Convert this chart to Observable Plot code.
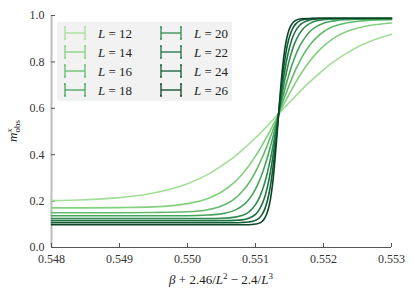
<!DOCTYPE html>
<html><head><meta charset="utf-8">
<script src="https://cdn.jsdelivr.net/npm/d3@7"></script>
<script src="https://cdn.jsdelivr.net/npm/@observablehq/plot@0.6"></script>
<style>body{margin:0;background:#fff}#chart{width:415px;height:298px}</style>
</head><body><div id="chart"></div>
<script>
const sizes = [12, 14, 16, 18, 20, 22, 24, 26];
const colors = ["#a3de98", "#83d07f", "#62bb6c", "#45a35c", "#2f8a4e", "#1e7242", "#105c33", "#0b4528"];
const xTicks = [0.548, 0.549, 0.550, 0.551, 0.552, 0.553];
const yTicks = [0.0, 0.2, 0.4, 0.6, 0.8, 1.0];
const betaValues = [0.5480, 0.5485, 0.5490, 0.5495, 0.5500, 0.5503, 0.5505, 0.5507, 0.5508, 0.5509,
  0.5510, 0.55105, 0.5511, 0.55113, 0.55116, 0.55119, 0.55122, 0.55125, 0.55128, 0.55131,
  0.55134, 0.55137, 0.5514, 0.55143, 0.55146, 0.55149, 0.55152, 0.55156, 0.5516, 0.55165,
  0.5517, 0.5518, 0.5519, 0.5520, 0.5521, 0.5522, 0.55235, 0.5525, 0.5527, 0.5530];
const m12 = [0.202, 0.206, 0.215, 0.235, 0.275, 0.315, 0.352, 0.394, 0.419, 0.445,
  0.473, 0.487, 0.502, 0.511, 0.520, 0.529, 0.539, 0.548, 0.557, 0.567,
  0.576, 0.585, 0.595, 0.604, 0.613, 0.623, 0.632, 0.644, 0.656, 0.671,
  0.686, 0.714, 0.741, 0.766, 0.790, 0.811, 0.839, 0.864, 0.890, 0.919];
const m14 = [0.171, 0.171, 0.172, 0.175, 0.189, 0.211, 0.239, 0.284, 0.315, 0.351,
  0.394, 0.417, 0.442, 0.458, 0.474, 0.490, 0.506, 0.523, 0.540, 0.557,
  0.574, 0.591, 0.608, 0.625, 0.642, 0.658, 0.674, 0.695, 0.716, 0.740,
  0.763, 0.804, 0.839, 0.868, 0.892, 0.911, 0.932, 0.946, 0.958, 0.968];
const m16 = [0.150, 0.150, 0.150, 0.151, 0.154, 0.163, 0.179, 0.212, 0.240, 0.277,
  0.326, 0.356, 0.388, 0.409, 0.431, 0.454, 0.477, 0.501, 0.526, 0.551,
  0.576, 0.601, 0.625, 0.650, 0.673, 0.696, 0.718, 0.746, 0.773, 0.802,
  0.829, 0.873, 0.906, 0.930, 0.947, 0.958, 0.969, 0.975, 0.980, 0.982];
const m18 = [0.137, 0.137, 0.137, 0.137, 0.137, 0.140, 0.145, 0.161, 0.178, 0.206,
  0.252, 0.283, 0.320, 0.346, 0.374, 0.404, 0.436, 0.469, 0.504, 0.540,
  0.576, 0.612, 0.647, 0.681, 0.713, 0.743, 0.772, 0.806, 0.836, 0.868,
  0.893, 0.931, 0.953, 0.967, 0.974, 0.979, 0.982, 0.984, 0.985, 0.985];
const m20 = [0.125, 0.125, 0.125, 0.125, 0.125, 0.125, 0.126, 0.131, 0.138, 0.153,
  0.185, 0.211, 0.247, 0.274, 0.305, 0.342, 0.382, 0.427, 0.475, 0.525,
  0.576, 0.627, 0.675, 0.720, 0.762, 0.799, 0.831, 0.868, 0.896, 0.923,
  0.943, 0.966, 0.977, 0.982, 0.984, 0.985, 0.986, 0.986, 0.986, 0.986];
const m22 = [0.116, 0.116, 0.116, 0.116, 0.116, 0.116, 0.116, 0.117, 0.119, 0.126,
  0.143, 0.161, 0.189, 0.212, 0.243, 0.281, 0.327, 0.381, 0.442, 0.508,
  0.576, 0.643, 0.706, 0.762, 0.810, 0.850, 0.883, 0.916, 0.939, 0.958,
  0.969, 0.981, 0.985, 0.986, 0.987, 0.987, 0.987, 0.987, 0.987, 0.987];
const m24 = [0.107, 0.107, 0.107, 0.107, 0.107, 0.107, 0.107, 0.107, 0.108, 0.110,
  0.117, 0.126, 0.144, 0.161, 0.186, 0.221, 0.267, 0.328, 0.402, 0.487,
  0.576, 0.663, 0.742, 0.807, 0.859, 0.898, 0.926, 0.951, 0.966, 0.977,
  0.982, 0.986, 0.987, 0.988, 0.988, 0.988, 0.988, 0.988, 0.988, 0.988];
const m26 = [0.098, 0.098, 0.098, 0.098, 0.098, 0.098, 0.098, 0.098, 0.098, 0.098,
  0.101, 0.104, 0.113, 0.124, 0.141, 0.168, 0.209, 0.271, 0.356, 0.461,
  0.576, 0.687, 0.781, 0.853, 0.902, 0.935, 0.956, 0.972, 0.980, 0.985,
  0.986, 0.987, 0.988, 0.988, 0.988, 0.988, 0.988, 0.988, 0.988, 0.988];
const series = [m12, m14, m16, m18, m20, m22, m24, m26];

const rows = sizes.flatMap((L, i) => betaValues.map((x, j) => ({L, x, y: series[i][j]})));
const font = "'Liberation Serif', 'DejaVu Serif', serif";

const plot = Plot.plot({
  width: 415, height: 298,
  marginLeft: 51, marginRight: 24, marginTop: 15, marginBottom: 51,
  style: {fontFamily: font, fontSize: "12px", color: "#333", background: "white"},
  x: {domain: [0.548, 0.553]},
  y: {domain: [0, 1]},
  color: {domain: sizes, range: colors},
  marks: [
    Plot.ruleX([0.548], {y1: 0, y2: 1, stroke: "#bdbdbd", strokeWidth: 2}),
    Plot.ruleY([0], {x1: 0.548, x2: 0.553, stroke: "#555", strokeWidth: 1}),
    Plot.axisX({ticks: xTicks, tickFormat: d3.format(".3f"), tickSize: -4, tickPadding: 11, stroke: "#555", label: null, fontSize: 12}),
    Plot.axisY({ticks: yTicks, tickFormat: d3.format(".1f"), tickSize: -4, tickPadding: 11, stroke: "#555", label: null, fontSize: 12}),
    Plot.line(rows, {x: "x", y: "y", z: "L", stroke: "L", strokeWidth: 1.6, curve: "monotone-x"})
  ]
});
document.getElementById("chart").appendChild(plot);

const svg = d3.select(plot);
// legend
const leg = svg.append("g").attr("text-anchor", "start");
leg.append("rect").attr("x", 57).attr("y", 22).attr("width", 175).attr("height", 79).attr("fill", "#f2f2f2");
sizes.forEach((L, i) => {
  const col = Math.floor(i / 4), row = i % 4;
  const x0 = 65 + col * 96, cy = 33 + row * 19;
  const g = leg.append("g").attr("stroke", colors[i]).attr("stroke-width", 1.3).attr("fill", colors[i]);
  g.append("line").attr("x1", x0).attr("x2", x0 + 20).attr("y1", cy).attr("y2", cy);
  [x0, x0 + 20].forEach(cx => {
    g.append("line").attr("x1", cx).attr("x2", cx).attr("y1", cy - 6).attr("y2", cy + 6);
    g.append("circle").attr("cx", cx).attr("cy", cy - 6).attr("r", 0.9).attr("stroke", "none");
    g.append("circle").attr("cx", cx).attr("cy", cy + 6).attr("r", 0.9).attr("stroke", "none");
  });
  const t = leg.append("text").attr("x", x0 + 33).attr("y", cy + 4.5).attr("text-anchor", "start")
    .attr("font-family", font).attr("font-size", 13).attr("fill", "#222");
  t.append("tspan").attr("font-style", "italic").text("L");
  t.append("tspan").text(" = " + L);
});
// x label
const xl = svg.append("text").attr("x", 221).attr("y", 284).attr("text-anchor", "middle")
  .attr("font-family", font).attr("font-size", 13).attr("fill", "#222");
xl.append("tspan").attr("font-style", "italic").text("β");
xl.append("tspan").text(" + 2.46/");
xl.append("tspan").attr("font-style", "italic").text("L");
xl.append("tspan").attr("font-size", 9).attr("dy", -5).text("2");
xl.append("tspan").attr("dy", 5).text(" − 2.4/");
xl.append("tspan").attr("font-style", "italic").text("L");
xl.append("tspan").attr("font-size", 9).attr("dy", -5).text("3");
// y label
const yl = svg.append("text").attr("transform", "translate(17,131) rotate(-90)").attr("text-anchor", "middle")
  .attr("font-family", font).attr("font-size", 13).attr("fill", "#222");
yl.append("tspan").attr("font-style", "italic").text("m");
yl.append("tspan").attr("font-style", "italic").attr("font-size", 9).attr("dy", -5).text("x");
yl.append("tspan").attr("font-size", 9).attr("dx", -4).attr("dy", 8).text("obs");
</script>
</body></html>
